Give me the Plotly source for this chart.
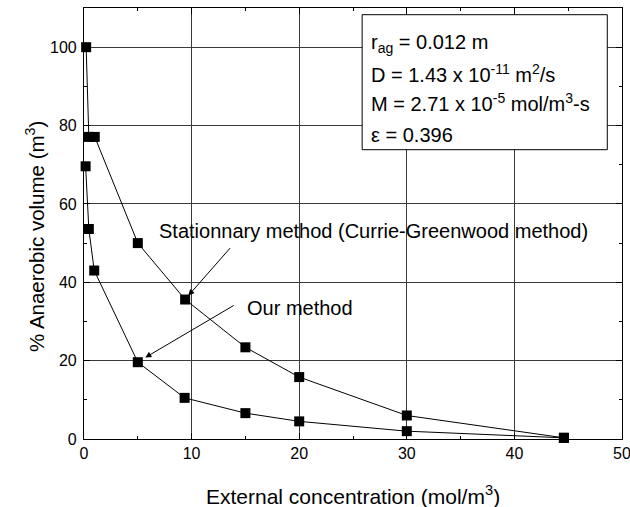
import plotly.graph_objects as go

# Data
conc_stat = [0.2, 0.45, 1.0, 5.0, 9.4, 15.0, 20.0, 30.0, 44.6]
vol_stat = [100.0, 77.1, 77.1, 50.0, 35.6, 23.4, 15.8, 6.0, 0.3]
conc_ours = [0.15, 0.45, 0.95, 5.0, 9.35, 15.0, 20.0, 30.0, 44.6]
vol_ours = [69.6, 53.6, 43.0, 19.6, 10.5, 6.6, 4.5, 2.0, 0.3]

x_ticks = [0, 10, 20, 30, 40, 50]
y_ticks = [0, 20, 40, 60, 80, 100]

FONT = "Liberation Sans, Arial, sans-serif"

fig = go.Figure()
for xs, ys in [(conc_stat, vol_stat), (conc_ours, vol_ours)]:
    fig.add_trace(go.Scatter(
        x=xs, y=ys, mode="lines+markers",
        line=dict(color="black", width=1),
        marker=dict(symbol="square", size=10, color="black"),
        showlegend=False, cliponaxis=False,
    ))

axis_common = dict(
    showline=True, linecolor="black", linewidth=1.2, mirror="ticks",
    ticks="inside", ticklen=6, tickcolor="black", tickwidth=1,
    showgrid=True, gridcolor="#3a3a3a", gridwidth=1,
    zeroline=False, automargin=False, ticklabeloverflow="allow",
    tickfont=dict(family=FONT, size=16, color="black"),
)
fig.update_xaxes(range=[0, 50], tickvals=x_ticks,
                 minor=dict(ticks="inside", ticklen=3, dtick=5, tickcolor="black", showgrid=False),
                 **axis_common)
fig.update_yaxes(range=[0, 110], tickvals=y_ticks, ticklabelstandoff=3,
                 minor=dict(ticks="inside", ticklen=3, dtick=10, tickcolor="black", showgrid=False),
                 **axis_common)

ann = []
# axis titles
ann.append(dict(xref="paper", yref="paper", x=0.5, y=-0.131, xanchor="center", yanchor="middle",
                text="External concentration (mol/m<sup>3</sup>)", showarrow=False,
                font=dict(family=FONT, size=21, color="black")))
ann.append(dict(xref="paper", yref="paper", x=-0.091, y=0.469, xanchor="center", yanchor="middle",
                text="% Anaerobic volume (m<sup>3</sup>)", textangle=-90, showarrow=False,
                font=dict(family=FONT, size=20.5, color="black")))
# method labels and arrows
ann.append(dict(x=6.8, y=53.2, xanchor="left", yanchor="middle", showarrow=False,
                text="Stationnary method (Currie-Greenwood method)",
                font=dict(family=FONT, size=20, color="black")))
ann.append(dict(x=14.95, y=33.5, xanchor="left", yanchor="middle", showarrow=False,
                text="Our method", font=dict(family=FONT, size=20, color="black")))
ann.append(dict(x=9.7, y=36.6, ax=13.7, ay=49.1, axref="x", ayref="y", text="",
                showarrow=True, arrowhead=2, arrowsize=1.2, arrowwidth=1, arrowcolor="black"))
ann.append(dict(x=5.7, y=20.8, ax=14.05, ay=34.3, axref="x", ayref="y", text="",
                showarrow=True, arrowhead=2, arrowsize=1.2, arrowwidth=1, arrowcolor="black"))

# parameter box
box_lines = [
    "r<sub>ag</sub> = 0.012 m",
    "D = 1.43 x 10<sup>-11</sup> m<sup>2</sup>/s",
    "M = 2.71 x 10<sup>-5</sup> mol/m<sup>3</sup>-s",
    "\u03b5 = 0.396",
]
box_y = [44, 74, 103, 135]  # pixel centres
L, T, W, H = 84, 8.3, 537.7, 431.0
for t, py in zip(box_lines, box_y):
    ann.append(dict(xref="paper", yref="paper", x=(369 - L) / W, y=1 - (py - T) / H,
                    xanchor="left", yanchor="middle", text=t, showarrow=False,
                    font=dict(family=FONT, size=20, color="black")))

fig.add_shape(type="rect", xref="paper", yref="paper",
              x0=(362 - L) / W, x1=(607 - L) / W, y0=1 - (150 - T) / H, y1=1 - (15 - T) / H,
              line=dict(color="black", width=1), fillcolor="white", layer="above")

fig.update_layout(
    width=630, height=507,
    margin=dict(l=84, r=8, t=8, b=68),
    paper_bgcolor="white", plot_bgcolor="white",
    annotations=ann,
)
fig.write_html("out.html")
